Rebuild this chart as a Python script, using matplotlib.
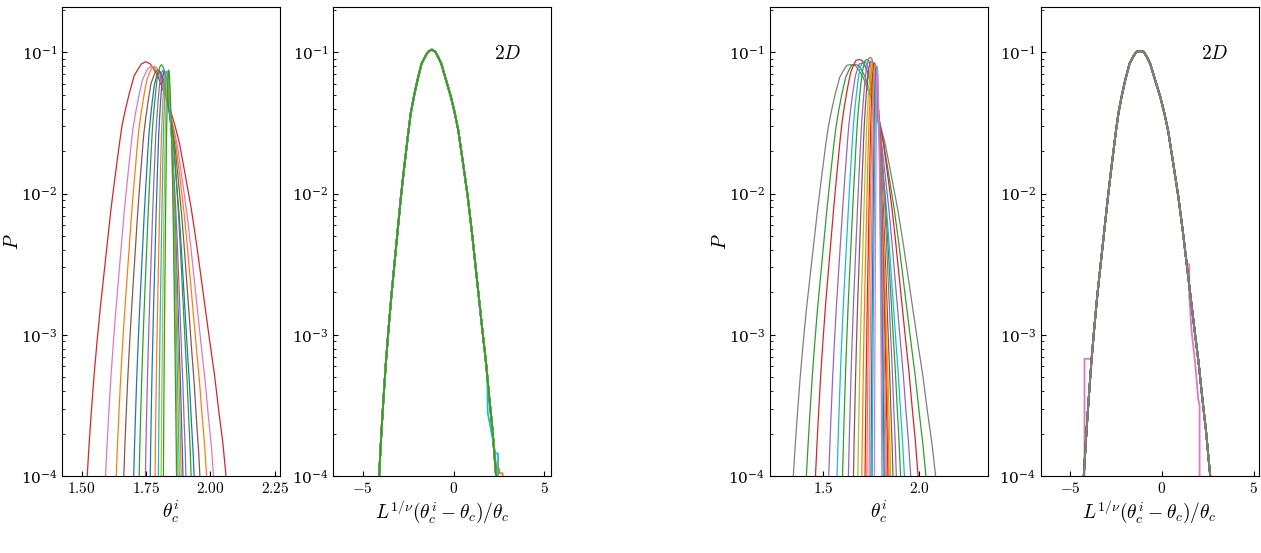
import numpy as np
import matplotlib
matplotlib.use('Agg')
import matplotlib.pyplot as plt
from matplotlib.ticker import FuncFormatter, LogLocator

plt.rcParams['mathtext.fontset'] = 'cm'
plt.rcParams['font.family'] = 'serif'
plt.rcParams['font.serif'] = ['DejaVu Serif']
plt.rcParams['font.size'] = 11

# collapsed curve: x = L^{1/nu}(theta - theta_c)/theta_c, log10 P
m2_x = [-4.22, -4.09, -4.03, -3.96, -3.85, -3.72, -3.58, -3.42, -3.25, -3.07, -2.89, -2.69, -2.47,
        -2.35, -2.19, -1.99, -1.76, -1.56, -1.40, -1.19,
        -1.00, -0.85, -0.67, -0.40, -0.13, 0.07, 0.26, 0.53, 0.78, 1.00, 1.20, 1.39, 1.59, 1.79,
        1.97, 2.15, 2.25, 2.34, 2.42]
m2_logp = [-4.3, -4.0, -3.85, -3.68, -3.45, -3.20, -2.97, -2.73, -2.50, -2.26, -2.02, -1.79, -1.55,
           -1.43, -1.32, -1.20, -1.08, -1.03, -0.995, -0.98,
           -0.995, -1.03, -1.08, -1.20, -1.32, -1.43, -1.55, -1.79, -2.02, -2.26, -2.50, -2.73, -2.97,
           -3.20, -3.45, -3.68, -3.85, -4.0, -4.3]

# noisy right tails of two series in panel 2 (they replace the points right of x = 1.79)
tail2_orange_x = [1.97, 2.15, 2.25, 2.40, 2.52, 2.52, 2.70, 2.70]
tail2_orange_logp = [-3.45, -3.68, -3.85, -3.95, -3.95, -3.98, -3.98, -4.3]
tail2_cyan_x = [1.86, 1.88, 2.10, 2.30, 2.45, 2.45]
tail2_cyan_logp = [-3.30, -3.55, -3.70, -3.84, -3.84, -4.3]

# collapsed curve
m4_x = [-4.38, -4.25, -4.18, -4.10, -3.98, -3.84, -3.69, -3.52, -3.33, -3.13, -2.93, -2.72, -2.49,
        -2.36, -2.20, -2.00, -1.76, -1.56, -1.39, -1.18,
        -0.98, -0.82, -0.63, -0.35, -0.07, 0.14, 0.34, 0.63, 0.90, 1.14, 1.36, 1.57, 1.79, 2.01,
        2.21, 2.41, 2.53, 2.64, 2.73]
m4_logp = m2_logp[:19] + [-0.99] + m2_logp[20:]

# coarse (stepped) pink series in panel 4: left and right ends
pink4_left_x = [-4.21, -4.21, -3.85]
pink4_left_logp = [-4.3, -3.17, -3.17]
pink4_right_x = [1.50, 1.50, 1.62, 1.82, 1.98, 2.06, 2.06]
pink4_right_logp = [-2.50, -2.73, -2.97, -3.20, -3.45, -3.50, -4.3]

# panel 1: raw distributions, where each curve hits 1e-4, its peak and peak height
p1_left = [1.519, 1.590, 1.632, 1.661, 1.700, 1.722, 1.746, 1.765, 1.784, 1.797, 1.808, 1.817]
p1_peak = [1.749, 1.771, 1.782, 1.795, 1.802, 1.810, 1.816, 1.822, 1.827, 1.831, 1.835, 1.838]
p1_right = [2.065, 2.017, 1.989, 1.963, 1.940, 1.927, 1.907, 1.895, 1.888, 1.880, 1.874, 1.869]
p1_height = [0.086, 0.080, 0.080, 0.075, 0.074, 0.082, 0.075, 0.074, 0.073, 0.074, 0.072, 0.075]
p1_colors = ['C3', 'C6', 'C1', 'C5', 'C0', 'C2', 'C4', 'C0', 'C1', 'C9', 'C8', 'C2']

# panel 3
p3_left = [1.339, 1.408, 1.457, 1.526, 1.570, 1.599, 1.630, 1.656, 1.679, 1.700, 1.717, 1.726,
           1.738, 1.748, 1.755, 1.766]
p3_peak = [1.643, 1.665, 1.686, 1.700, 1.712, 1.727, 1.745, 1.750, 1.756, 1.761, 1.766, 1.770,
           1.773, 1.776, 1.779, 1.782]
p3_right = [2.094, 2.042, 1.998, 1.960, 1.926, 1.905, 1.882, 1.865, 1.853, 1.845, 1.838, 1.830,
            1.824, 1.818, 1.812, 1.806]
p3_height = [0.082, 0.082, 0.089, 0.084, 0.086, 0.089, 0.092, 0.086, 0.084, 0.085, 0.084, 0.082,
             0.080, 0.078, 0.080, 0.076]
p3_colors = ['C7', 'C2', 'C3', 'C4', 'C9', 'C2', 'C4', 'C5', 'C8', 'C1', 'C3', 'C1', 'C6', 'C0',
             'C9', 'C6']

x_label_raw = r'$\theta_c^i$'
x_label_col = r'$L^{1/\nu}(\theta_c^i-\theta_c)/\theta_c$'


def uncollapse(mx, mlp, left, peak, right, height):
    # stretch the collapsed shape so it meets the read end points and peak
    mx = np.array(mx)
    mlp = np.array(mlp)
    k = np.argmax(mlp)
    xl = np.interp(-4.0, mlp[:k + 1], mx[:k + 1])
    xr = np.interp(-4.0, mlp[k:][::-1], mx[k:][::-1])
    th = np.where(mx <= mx[k],
                  peak + (mx - mx[k]) / (mx[k] - xl) * (peak - left),
                  peak + (mx - mx[k]) / (xr - mx[k]) * (right - peak))
    return th, 10 ** (mlp - mlp[k] + np.log10(height))


def with_tail(mx, mlp, tx, tlp, cut):
    keep = [i for i in range(len(mx)) if mx[i] <= cut]
    return [mx[i] for i in keep] + tx, [mlp[i] for i in keep] + tlp


W, H = 1261, 553
fig = plt.figure(figsize=(W / 100, H / 100), dpi=100)
lefts = [62.3, 333.3, 770, 1041]
axs = [fig.add_axes([l / W, 1 - 476 / H, 217.5 / W, 469 / H]) for l in lefts]

for i in range(len(p1_left)):
    th, p = uncollapse(m2_x, m2_logp, p1_left[i], p1_peak[i], p1_right[i], p1_height[i])
    axs[0].plot(th, p, color=p1_colors[i], lw=0.9)
    cx, clp = m2_x, m2_logp
    if i == 2:
        cx, clp = with_tail(m2_x, m2_logp, tail2_orange_x, tail2_orange_logp, 1.79)
    if i == 9:
        cx, clp = with_tail(m2_x, m2_logp, tail2_cyan_x, tail2_cyan_logp, 1.79)
    axs[1].plot(cx, 10 ** np.array(clp), color=p1_colors[i], lw=1.3)

for i in range(len(p3_left)):
    th, p = uncollapse(m4_x, m4_logp, p3_left[i], p3_peak[i], p3_right[i], p3_height[i])
    axs[2].plot(th, p, color=p3_colors[i], lw=0.9)

# panel 4 drawn in reverse so the grey one ends on top
for i in reversed(range(len(p3_left))):
    cx, clp = list(m4_x), list(m4_logp)
    if i == 12:
        cx = pink4_left_x + [v for v in m4_x if -3.85 < v <= 1.36] + pink4_right_x
        clp = pink4_left_logp + [m4_logp[k] for k, v in enumerate(m4_x) if -3.85 < v <= 1.36] \
            + pink4_right_logp
    axs[3].plot(cx, 10 ** np.array(clp), color=p3_colors[i], lw=1.3)

xlims = [(1.425, 2.269), (-6.61, 5.35), (1.222, 2.356), (-6.58, 5.27)]
xticks = [[1.5, 1.75, 2.0, 2.25], [-5, 0, 5], [1.5, 2.0], [-5, 0, 5]]
fmts = ['${:.2f}$', '${:g}$', '${:.1f}$', '${:g}$']

for j, ax in enumerate(axs):
    ax.set_yscale('log')
    ax.set_ylim(1e-4, 0.21)
    ax.set_xlim(*xlims[j])
    ax.set_xticks(xticks[j])
    f = fmts[j]
    ax.xaxis.set_major_formatter(FuncFormatter(lambda v, pos, f=f: f.format(v)))
    ax.yaxis.set_major_locator(LogLocator(base=10, numticks=10))
    ax.tick_params(which='both', direction='in')
    ax.tick_params(which='major', length=3.5)
    ax.tick_params(which='minor', length=2)
    if j % 2 == 0:
        ax.set_xlabel(x_label_raw, fontsize=14, labelpad=2)
        ax.set_ylabel('$P$', fontsize=14)
        ax.yaxis.set_label_coords(-0.185, 0.5)
    else:
        ax.set_xlabel(x_label_col, fontsize=14, labelpad=2)
        ax.text(0.8, 0.9, '$2D$', transform=ax.transAxes, ha='center', va='center', fontsize=14)

fig.savefig('out.png', dpi=100)
